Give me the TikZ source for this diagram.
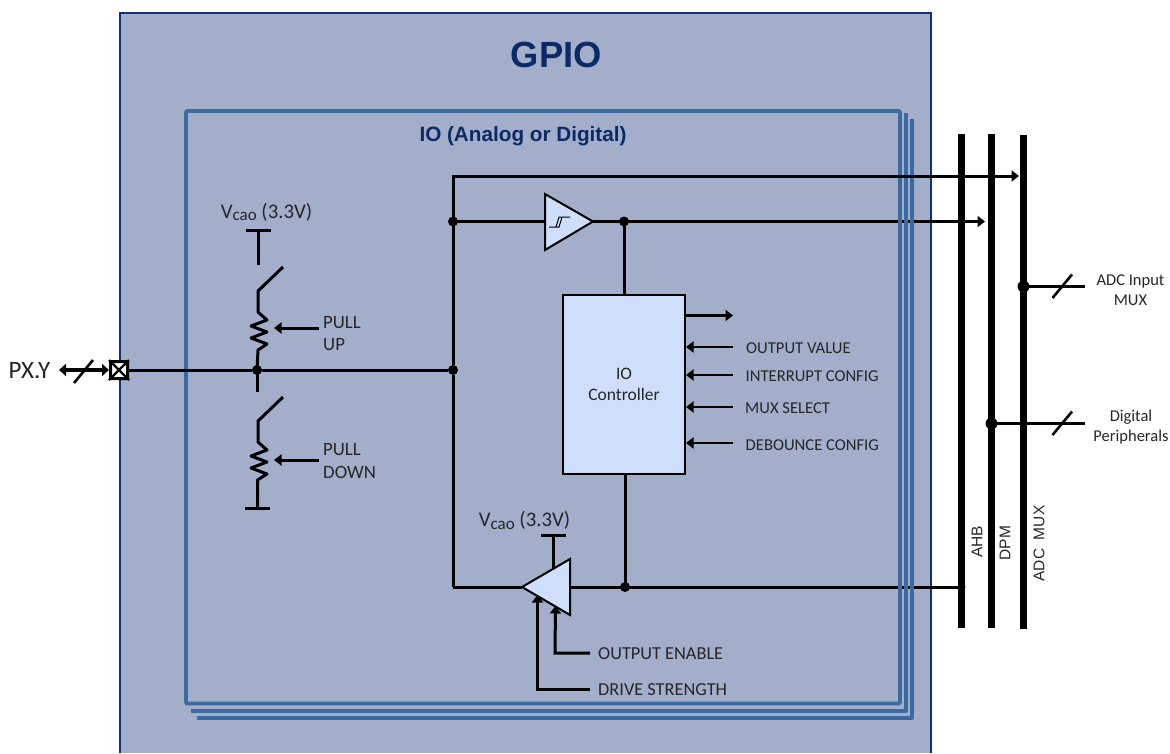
\documentclass[tikz,border=0pt]{standalone}
\usepackage{fontspec}
\setmainfont{Carlito}
\newfontfamily\titlefont{Liberation Sans}
\usetikzlibrary{arrows.meta}
\definecolor{gpiobg}{HTML}{A3AECA}
\definecolor{navyedge}{HTML}{12306B}
\definecolor{iostroke}{HTML}{3A6A9F}
\definecolor{partfill}{HTML}{CFDFFB}
\definecolor{titleblue}{HTML}{0B2A66}
\newcommand{\vcio}{V\raisebox{-2.6pt}{\fontsize{17}{18}\selectfont cao} (3.3V)}
\tikzset{
  wire/.style={draw=black,line width=3pt,line cap=butt,line join=miter},
  thinwire/.style={draw=black,line width=2.6pt},
  intip/.style={wire,-{Triangle[length=7.5pt,width=11pt]}},
  ctrltip/.style={intip,line width=2.6pt},
  bus/.style={draw=black,line width=7pt},
  dotnode/.style={circle,fill=black,inner sep=0pt,minimum size=8pt},
  smalldot/.style={circle,fill=black,inner sep=0pt,minimum size=10pt},
  lbl/.style={font=\fontsize{16.6}{18}\selectfont,text=black!85,inner sep=0pt},
  lblw/.style={lbl,anchor=west},
  lblb/.style={lblw,font=\fontsize{18.3}{20}\selectfont},
  vlbl/.style={font=\titlefont\fontsize{15.5}{18}\selectfont,text=black!85,inner sep=0pt,rotate=90},
  part/.style={draw=black,line width=2pt,fill=partfill,line join=miter},
  iobox/.style={draw=iostroke,line width=3.6pt,line join=round},
}
\begin{document}
\begin{tikzpicture}[x=1pt,y=-1pt]
\useasboundingbox (0,0) rectangle (1170,753);
% outer block
\path[fill=gpiobg] (120,13) rectangle (931,753);
\draw[navyedge,line width=2pt] (120,753) -- (120,13) -- (931,13) -- (931,753);
\node[font=\titlefont\bfseries\fontsize{36.4}{40}\selectfont,text=titleblue,inner sep=0pt] (gpiotitle) at (556.5,55) {GPIO};
% coordinates
\coordinate (topL) at (453,176);
\coordinate (botL) at (453,587);
\coordinate (midB) at (895,221.5);
\coordinate (midD) at (895,587);
\coordinate (frontB) at (898,221.5);
\coordinate (frontD) at (898,587);
\coordinate (endB) at (985,221.5);
\coordinate (busA) at (961.5,587);
% wire stretches that pass beneath the stacked IO frames
\draw[intip] (midB) -- (endB);
\draw[wire] (midD) -- (busA);
% stacked IO frames
\draw[iobox] (912,119) -- (912,717.7) -- (197,717.7);
\draw[iobox] (906,113) -- (906,710.7) -- (191,710.7);
\draw[iobox,fill=gpiobg,rounded corners=1pt] (186,111) rectangle (900,703.5);
\node[font=\titlefont\bfseries\fontsize{20.7}{24}\selectfont,text=titleblue,inner sep=0pt] (iotitle) at (523,136) {IO (Analog or Digital)};
% buses
\coordinate (ahbT) at (961.5,134); \coordinate (ahbB) at (961.5,627.5);
\coordinate (dpmT) at (991.5,134); \coordinate (dpmB) at (991.5,627.5);
\coordinate (adcT) at (1023.5,135); \coordinate (adcB) at (1023.5,628.5);
\draw[bus] (ahbT) -- (ahbB);
\draw[bus] (dpmT) -- (dpmB);
\draw[bus] (adcT) -- (adcB);
\node[vlbl] (ahbl) at (977,542) {AHB};
\node[vlbl] (dpml) at (1005,543) {DPM};
\node[vlbl] (adcl) at (1039,543.5) {ADC\ \ MUX};
% junctions
\node[smalldot] (jbufin) at (453,221.5) {};
\node[smalldot] (jbufout) at (624,221.5) {};
\node[smalldot] (jdrv) at (625,587) {};
\node[smalldot] (jpu) at (257,370) {};
\node[smalldot] (jio) at (453,370) {};
% main wires
\coordinate (endA) at (1019,176);
\draw[intip] (jio) -- (topL) -- (endA);
\draw[wire] (jio) -- (botL);
\draw[wire] (jbufout.center) -- (frontB);
\draw[wire] (jdrv.center) -- (frontD);
% pad
\node[draw=black,line width=3pt,fill=white,minimum size=17pt,inner sep=0pt,rounded corners=1pt] (pad) at (119,370) {};
\draw[black,line width=2.4pt] (pad.north west) -- (pad.south east) (pad.north east) -- (pad.south west);
\draw[wire] (pad.east) -- (jpu) -- (jio);
% PX.Y
\node[inner sep=0pt,font=\fontsize{25}{28}\selectfont,text=black!85] (pxy) at (29.5,370.5) {PX.Y};
\coordinate (pxA) at (59,370);
\draw[wire,line width=3.4pt,{Triangle[length=7pt,width=12pt]}-{Triangle[length=7pt,width=12pt]}] (pxA) -- (pad.west);
\coordinate (s1a) at (74,383); \coordinate (s1b) at (93,360);
\draw[thinwire] (s1a) -- (s1b);
% pull up
\coordinate (tuL) at (246,230); \coordinate (tuR) at (271,230); \coordinate (tuM) at (258.5,230); \coordinate (tuE) at (258.5,264.5);
\draw[wire] (tuL) -- (tuR);
\draw[wire] (tuM) -- (tuE);
\node[lbl,font=\fontsize{20.8}{22}\selectfont] (vcc1) at (266.5,212) {\vcio};
\coordinate (su1) at (283,267); \coordinate (su2) at (258,291);
\draw[wire,line join=round] (su1) -- (su2) -- (258,312) -- (267,320) -- (251,326) -- (267,332) -- (251,338) -- (267,344) -- (258,350) -- (257,370);
\coordinate (puS) at (318.5,328);
\coordinate (puE) at (274,328);
\draw[intip] (puS) -- (puE);
\node[lblw,font=\fontsize{18.8}{20}\selectfont] (pul1) at (323,323) {PULL};
\node[lblw,font=\fontsize{18.8}{20}\selectfont] (pul2) at (323,345) {UP};
% pull down
\coordinate (pdT) at (257,392);
\draw[wire] (jpu.center) -- (pdT);
\coordinate (sd1) at (283,397); \coordinate (sd2) at (258,421);
\coordinate (tdL) at (245,508.5); \coordinate (tdR) at (270,508.5);
\draw[wire,line join=round] (sd1) -- (sd2) -- (258,442) -- (267,450) -- (251,456) -- (267,462) -- (251,468) -- (267,474) -- (257.5,480) -- (257.5,508.5);
\draw[wire] (tdL) -- (tdR);
\coordinate (pdS) at (318.5,460);
\coordinate (pdE) at (274,460);
\draw[intip] (pdS) -- (pdE);
\node[lblw,font=\fontsize{18.8}{20}\selectfont] (pdl1) at (323,450) {PULL};
\node[lblw,font=\fontsize{18.8}{20}\selectfont] (pdl2) at (323,472) {DOWN};
% input buffer
\draw[wire] (jbufin.center) -- (545,221.5);
\draw[part] (545,194) -- (593,221.5) -- (545,250) -- cycle;
\draw[black,line width=1pt] (549,227) -- (559,227) -- (562,217) -- (570,217) (556,227) -- (559,217) -- (562,217);
\draw[wire] (593,221.5) -- (jbufout.center);
% controller
\node[part,minimum width=122pt,minimum height=179pt,inner sep=0pt,align=center,font=\fontsize{17.5}{21}\selectfont,text=black!85] (ctrl) at (624,384) {IO\\[0pt]Controller};
\draw[wire] (jbufout.center) -- (ctrl.north -| jbufout);
\draw[wire] (ctrl.south -| jdrv) -- (jdrv.center);
\coordinate (o1) at (733,315.5); \coordinate (i1) at (733,347); \coordinate (i2) at (733,375); \coordinate (i3) at (733,407); \coordinate (i4) at (733,443);
\draw[ctrltip] (ctrl.east |- o1) -- (o1);
\draw[ctrltip] (i1) -- (ctrl.east |- i1);
\draw[ctrltip] (i2) -- (ctrl.east |- i2);
\draw[ctrltip] (i3) -- (ctrl.east |- i3);
\draw[ctrltip] (i4) -- (ctrl.east |- i4);
\node[lblw] (l1) at (746,348) {OUTPUT VALUE};
\node[lblw] (l2) at (745.5,376) {INTERRUPT CONFIG};
\node[lblw] (l3) at (745,408) {MUX SELECT};
\node[lblw] (l4) at (745.5,445) {DEBOUNCE CONFIG};
% output driver
\coordinate (vdT) at (553,535); \coordinate (vdB) at (553,570);
\draw[wire] (541,535.5) -- (565.5,535.5);
\draw[wire] (vdT) -- (vdB);
\draw[wire] (botL) -- (522,587);
\draw[wire] (570,587) -- (jdrv.center);
\draw[part] (570,559) -- (522,587) -- (570,615) -- cycle;
\node[lbl,font=\fontsize{20.8}{22}\selectfont] (vcc2) at (524.5,520.5) {\vcio};
\coordinate (oeS) at (590,653); \coordinate (oeC) at (555,653); \coordinate (oeE) at (555.5,606);
\draw[intip] (oeS) -- (oeC) -- (oeE);
\coordinate (dsS) at (590,689.5); \coordinate (dsC) at (537.5,689.5); \coordinate (dsE) at (537.5,595);
\draw[intip] (dsS) -- (dsC) -- (dsE);
\node[lblb] (oel) at (598,654) {OUTPUT ENABLE};
\node[lblb] (dsl) at (598,689.5) {DRIVE STRENGTH};
% right terminals
\node[dotnode] (jahb) at (961.5,587) {};
\node[smalldot,minimum size=12pt] (jadc) at (1023.5,286.5) {};
\node[smalldot,minimum size=12pt] (jdpm) at (991.5,423.5) {};
\coordinate (adcO) at (1085,286.5); \coordinate (digO) at (1085,423.5);
\draw[wire] (jadc.center) -- (adcO);
\draw[wire] (jdpm.center) -- (digO);
\coordinate (s2a) at (1052.5,298); \coordinate (s2b) at (1072,274.5);
\coordinate (s3a) at (1052.5,435); \coordinate (s3b) at (1072,411.5);
\draw[thinwire] (s2a) -- (s2b);
\draw[thinwire] (s3a) -- (s3b);
\node[lbl,align=center,font=\fontsize{16.5}{20}\selectfont] (adcin) at (1130.5,290) {ADC Input\\MUX};
\node[lbl,align=center,font=\fontsize{16.5}{20}\selectfont] (digp) at (1131,427.5) {Digital\\Peripherals};
\end{tikzpicture}
\end{document}
